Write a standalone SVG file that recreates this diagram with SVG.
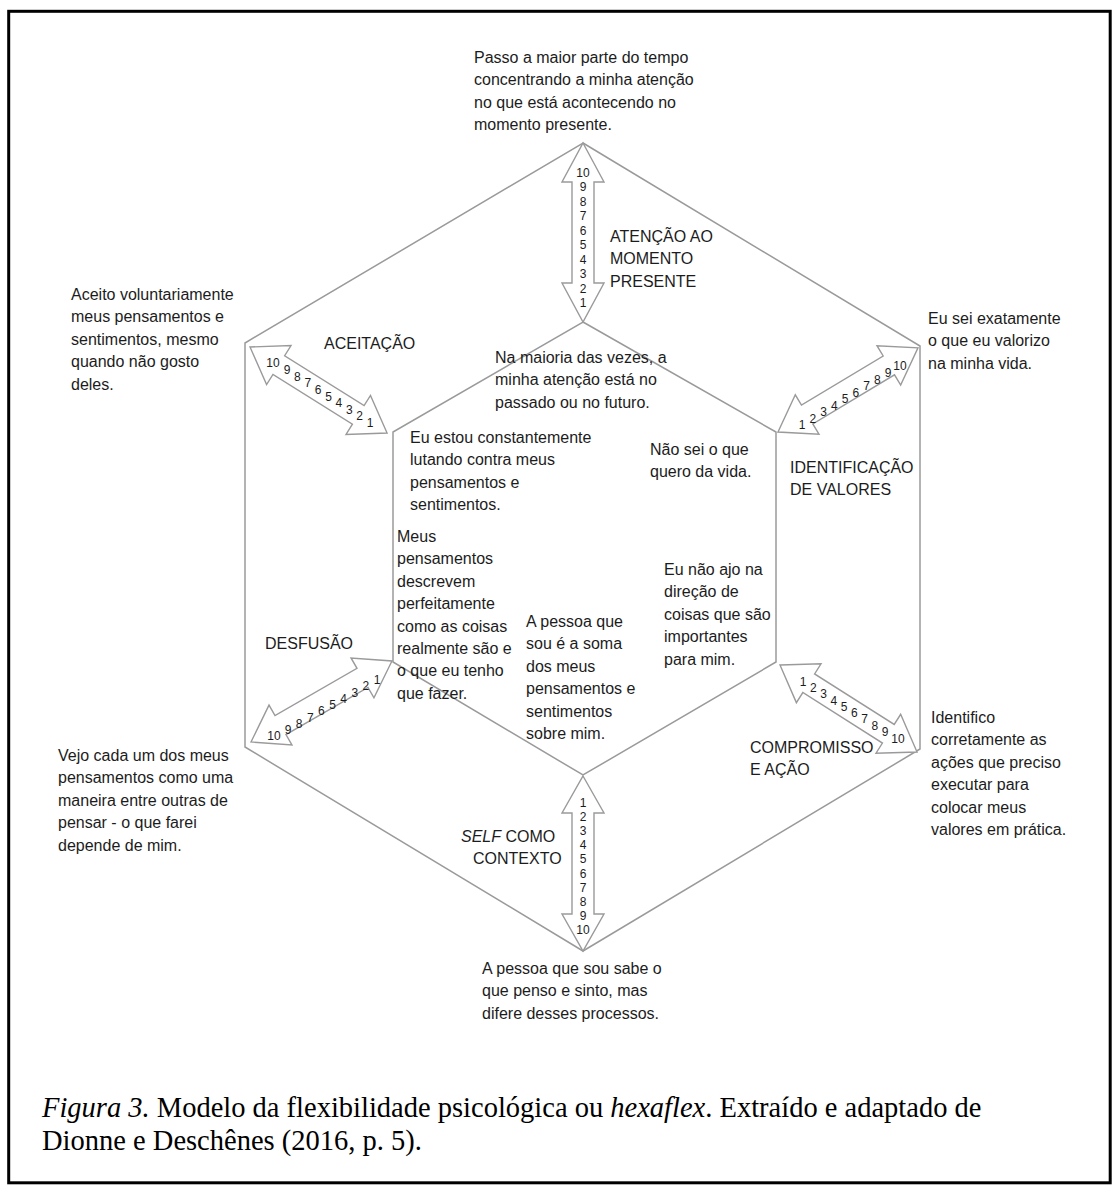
<svg xmlns="http://www.w3.org/2000/svg" width="1113" height="1185" viewBox="0 0 1113 1185">
  <style>
    .frame { fill: #fff; stroke: #000; stroke-width: 3; }
    .hex { fill: none; stroke: #9a9a9a; stroke-width: 1.5; stroke-linejoin: miter; }
    .arrow { fill: #fff; stroke: #9a9a9a; stroke-width: 1.4; stroke-linejoin: miter; }
    .t { font-family: "Liberation Sans", Arial, sans-serif; font-size: 16px; fill: #1c1c1c; }
    .n { font-family: "Liberation Sans", Arial, sans-serif; font-size: 12px; fill: #1c1c1c; text-anchor: middle; }
    .cap { font-family: "Liberation Serif", "Times New Roman", serif; font-size: 28.5px; fill: #000; }
  </style>

  <!-- page frame -->
  <rect class="frame" x="8.7" y="11.3" width="1101.5" height="1171.5"/>

  <!-- hexaflex outlines -->
  <g id="hexagons">
    <polygon id="outer-hex" class="hex" points="583,143 920,346 920,749 583,951 245,747 245,343"/>
    <polygon id="inner-hex" class="hex" points="583,322 776,432 776,662 583,775 393,662 393,432"/>
  </g>

  <!-- double-headed scale arrows between the two hexagons -->
  <g id="connectors">
    <g id="arrow-presente" transform="translate(583,143) rotate(90)">
      <polygon class="arrow" points="0,0 39,-21 39,-11 140,-11 140,-21 179,0 140,21 140,11 39,11 39,21"/>
    </g>
    <g id="arrow-self" transform="translate(583,776) rotate(90)">
      <polygon class="arrow" points="0,0 37,-21 37,-11 138,-11 138,-21 175,0 138,21 138,11 37,11 37,21"/>
    </g>
    <g id="arrow-aceitacao" transform="translate(250,347) rotate(32.1)">
      <polygon class="arrow" points="0,0 34,-23 34,-11 127.8,-11 127.8,-23 161.8,0 127.8,23 127.8,11 34,11 34,23"/>
    </g>
    <g id="arrow-valores" transform="translate(778,432) rotate(-31)">
      <polygon class="arrow" points="0,0 34,-23 34,-11 129.3,-11 129.3,-23 163.3,0 129.3,23 129.3,11 34,11 34,23"/>
    </g>
    <g id="arrow-desfusao" transform="translate(251,742) rotate(-29.9)">
      <polygon class="arrow" points="0,0 34,-23 34,-11 128.6,-11 128.6,-23 162.6,0 128.6,23 128.6,11 34,11 34,23"/>
    </g>
    <g id="arrow-compromisso" transform="translate(780,665) rotate(32.4)">
      <polygon class="arrow" points="0,0 34,-23 34,-11 128.3,-11 128.3,-23 162.3,0 128.3,23 128.3,11 34,11 34,23"/>
    </g>
  </g>

  <!-- scale numbers inside the arrows -->
  <g id="scales">
    <g id="scale-presente">
      <text class="n" x="583" y="177">10</text>
      <text class="n" x="583" y="191.4">9</text>
      <text class="n" x="583" y="205.9">8</text>
      <text class="n" x="583" y="220.3">7</text>
      <text class="n" x="583" y="234.8">6</text>
      <text class="n" x="583" y="249.2">5</text>
      <text class="n" x="583" y="263.7">4</text>
      <text class="n" x="583" y="278.1">3</text>
      <text class="n" x="583" y="292.6">2</text>
      <text class="n" x="583" y="307">1</text>
    </g>
    <g id="scale-self">
      <text class="n" x="583" y="807">1</text>
      <text class="n" x="583" y="821.1">2</text>
      <text class="n" x="583" y="835.2">3</text>
      <text class="n" x="583" y="849.3">4</text>
      <text class="n" x="583" y="863.4">5</text>
      <text class="n" x="583" y="877.6">6</text>
      <text class="n" x="583" y="891.7">7</text>
      <text class="n" x="583" y="905.8">8</text>
      <text class="n" x="583" y="919.9">9</text>
      <text class="n" x="583" y="934">10</text>
    </g>
    <g id="scale-aceitacao">
      <text class="n" x="273" y="367">10</text>
      <text class="n" x="287" y="374">9</text>
      <text class="n" x="297.4" y="380.6">8</text>
      <text class="n" x="307.8" y="387.3">7</text>
      <text class="n" x="318.1" y="393.9">6</text>
      <text class="n" x="328.5" y="400.5">5</text>
      <text class="n" x="338.9" y="407.1">4</text>
      <text class="n" x="349.3" y="413.8">3</text>
      <text class="n" x="359.6" y="420.4">2</text>
      <text class="n" x="370" y="427">1</text>
    </g>
    <g id="scale-valores">
      <text class="n" x="802" y="429">1</text>
      <text class="n" x="812.8" y="422.5">2</text>
      <text class="n" x="823.5" y="416">3</text>
      <text class="n" x="834.3" y="409.5">4</text>
      <text class="n" x="845" y="403">5</text>
      <text class="n" x="855.8" y="396.5">6</text>
      <text class="n" x="866.5" y="390">7</text>
      <text class="n" x="877.3" y="383.5">8</text>
      <text class="n" x="888" y="377">9</text>
      <text class="n" x="900" y="370">10</text>
    </g>
    <g id="scale-desfusao">
      <text class="n" x="377" y="684">1</text>
      <text class="n" x="365.9" y="690.3">2</text>
      <text class="n" x="354.8" y="696.5">3</text>
      <text class="n" x="343.6" y="702.8">4</text>
      <text class="n" x="332.5" y="709">5</text>
      <text class="n" x="321.4" y="715.3">6</text>
      <text class="n" x="310.3" y="721.5">7</text>
      <text class="n" x="299.1" y="727.8">8</text>
      <text class="n" x="288" y="734">9</text>
      <text class="n" x="274" y="740">10</text>
    </g>
    <g id="scale-compromisso">
      <text class="n" x="803" y="686">1</text>
      <text class="n" x="813.3" y="692.2">2</text>
      <text class="n" x="823.5" y="698.4">3</text>
      <text class="n" x="833.8" y="704.6">4</text>
      <text class="n" x="844" y="710.8">5</text>
      <text class="n" x="854.3" y="717">6</text>
      <text class="n" x="864.5" y="723.3">7</text>
      <text class="n" x="874.8" y="729.5">8</text>
      <text class="n" x="885" y="735.7">9</text>
      <text class="n" x="898" y="743">10</text>
    </g>
  </g>

  <!-- process labels -->
  <g id="label-presente"><text class="t" x="610" y="242">ATENÇÃO AO<tspan x="610" dy="22.4">MOMENTO</tspan><tspan x="610" dy="22.4">PRESENTE</tspan></text></g>
  <g id="label-aceitacao"><text class="t" x="324" y="349">ACEITAÇÃO</text></g>
  <g id="label-valores"><text class="t" x="790" y="473">IDENTIFICAÇÃO<tspan x="790" dy="22.4">DE VALORES</tspan></text></g>
  <g id="label-desfusao"><text class="t" x="265" y="649">DESFUSÃO</text></g>
  <g id="label-compromisso"><text class="t" x="750" y="753">COMPROMISSO<tspan x="750" dy="22.4">E AÇÃO</tspan></text></g>
  <g id="label-self"><text class="t" x="461" y="842"><tspan font-style="italic">SELF</tspan> COMO<tspan x="473" dy="22.4">CONTEXTO</tspan></text></g>

  <!-- flexible poles (outside) -->
  <g id="pole-presente-flex"><text class="t" x="474" y="63">Passo a maior parte do tempo<tspan x="474" dy="22.4">concentrando a minha atenção</tspan><tspan x="474" dy="22.4">no que está acontecendo no</tspan><tspan x="474" dy="22.4">momento presente.</tspan></text></g>
  <g id="pole-aceitacao-flex"><text class="t" x="71" y="300">Aceito voluntariamente<tspan x="71" dy="22.4">meus pensamentos e</tspan><tspan x="71" dy="22.4">sentimentos, mesmo</tspan><tspan x="71" dy="22.4">quando não gosto</tspan><tspan x="71" dy="22.4">deles.</tspan></text></g>
  <g id="pole-valores-flex"><text class="t" x="928" y="324">Eu sei exatamente<tspan x="928" dy="22.4">o que eu valorizo</tspan><tspan x="928" dy="22.4">na minha vida.</tspan></text></g>
  <g id="pole-compromisso-flex"><text class="t" x="931" y="723">Identifico<tspan x="931" dy="22.4">corretamente as</tspan><tspan x="931" dy="22.4">ações que preciso</tspan><tspan x="931" dy="22.4">executar para</tspan><tspan x="931" dy="22.4">colocar meus</tspan><tspan x="931" dy="22.4">valores em prática.</tspan></text></g>
  <g id="pole-desfusao-flex"><text class="t" x="58" y="761">Vejo cada um dos meus<tspan x="58" dy="22.4">pensamentos como uma</tspan><tspan x="58" dy="22.4">maneira entre outras de</tspan><tspan x="58" dy="22.4">pensar - o que farei</tspan><tspan x="58" dy="22.4">depende de mim.</tspan></text></g>
  <g id="pole-self-flex"><text class="t" x="482" y="974">A pessoa que sou sabe o<tspan x="482" dy="22.4">que penso e sinto, mas</tspan><tspan x="482" dy="22.4">difere desses processos.</tspan></text></g>

  <!-- inflexible poles (inside) -->
  <g id="pole-presente-rigid"><text class="t" x="495" y="363">Na maioria das vezes, a<tspan x="495" dy="22.4">minha atenção está no</tspan><tspan x="495" dy="22.4">passado ou no futuro.</tspan></text></g>
  <g id="pole-aceitacao-rigid"><text class="t" x="410" y="443">Eu estou constantemente<tspan x="410" dy="22.4">lutando contra meus</tspan><tspan x="410" dy="22.4">pensamentos e</tspan><tspan x="410" dy="22.4">sentimentos.</tspan></text></g>
  <g id="pole-valores-rigid"><text class="t" x="650" y="455">Não sei o que<tspan x="650" dy="22.4">quero da vida.</tspan></text></g>
  <g id="pole-desfusao-rigid"><text class="t" x="397" y="542">Meus<tspan x="397" dy="22.4">pensamentos</tspan><tspan x="397" dy="22.4">descrevem</tspan><tspan x="397" dy="22.4">perfeitamente</tspan><tspan x="397" dy="22.4">como as coisas</tspan><tspan x="397" dy="22.4">realmente são e</tspan><tspan x="397" dy="22.4">o que eu tenho</tspan><tspan x="397" dy="22.4">que fazer.</tspan></text></g>
  <g id="pole-self-rigid"><text class="t" x="526" y="627">A pessoa que<tspan x="526" dy="22.4">sou é a soma</tspan><tspan x="526" dy="22.4">dos meus</tspan><tspan x="526" dy="22.4">pensamentos e</tspan><tspan x="526" dy="22.4">sentimentos</tspan><tspan x="526" dy="22.4">sobre mim.</tspan></text></g>
  <g id="pole-compromisso-rigid"><text class="t" x="664" y="575">Eu não ajo na<tspan x="664" dy="22.4">direção de</tspan><tspan x="664" dy="22.4">coisas que são</tspan><tspan x="664" dy="22.4">importantes</tspan><tspan x="664" dy="22.4">para mim.</tspan></text></g>

  <!-- figure caption -->
  <g id="caption">
    <text class="cap" x="42" y="1117"><tspan font-style="italic">Figura 3.</tspan> Modelo da flexibilidade psicológica ou <tspan font-style="italic">hexaflex</tspan>. Extraído e adaptado de</text>
    <text class="cap" x="42" y="1150">Dionne e Deschênes (2016, p. 5).</text>
  </g>
</svg>
